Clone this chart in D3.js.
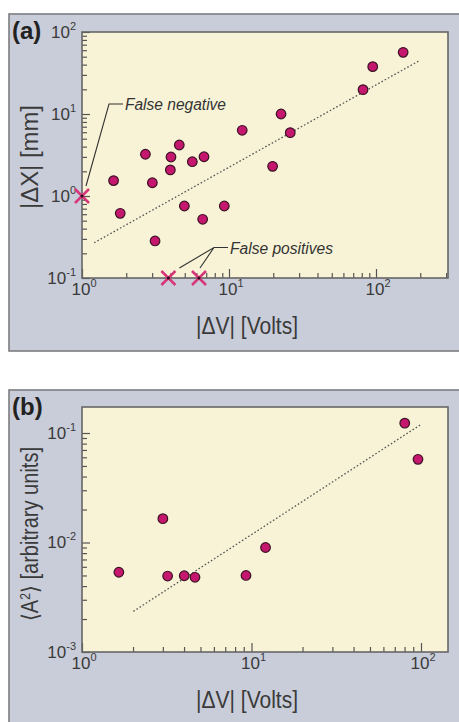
<!DOCTYPE html>
<html><head><meta charset="utf-8">
<script src="https://cdn.jsdelivr.net/npm/d3@7"></script>
<style>
html,body{margin:0;padding:0;background:#fff;}
svg{display:block;}
</style></head>
<body><svg id="c" width="459" height="722"></svg>
<script>
// ---------- data: panel (a) ----------
const aVolts = [153, 95, 81.6, 22.6, 26.1, 12.3, 4.59, 2.70, 4.03, 6.76, 5.63, 3.99, 19.8, 1.64, 3.01, 1.82, 4.97, 9.29, 6.62, 3.14];
const aDisp  = [56.5, 37.8, 19.8, 10, 5.92, 6.33, 4.19, 3.23, 2.99, 3.01, 2.62, 2.08, 2.30, 1.54, 1.45, 0.615, 0.755, 0.755, 0.52, 0.283];
const falseVolts = [1, 3.87, 6.25];
const falseDisp  = [1, 0.1, 0.1];
const aFitVolts = [1.21, 197];
const aFitDisp  = [0.269, 44.7];
const aXTicks = [1, 10, 100];
const aYTicks = [0.1, 1, 10, 100];
const aXExp = ["0", "1", "2"];
const aYExp = ["-1", "0", "1", "2"];
// ---------- data: panel (b) ----------
const bVolts = [80.2, 96, 3.0, 12.1, 1.65, 3.2, 4.01, 4.64, 9.28];
const bAmp   = [0.123, 0.0575, 0.0165, 0.009, 0.00535, 0.00494, 0.00497, 0.00481, 0.005];
const bFitVolts = [2.01, 101];
const bFitAmp   = [0.00235, 0.121];
const bXTicks = [1, 10, 100];
const bYTicks = [0.001, 0.01, 0.1];
const bXExp = ["0", "1", "2"];
const bYExp = ["-3", "-2", "-1"];

const FONT = "'Liberation Sans Narrow','Liberation Sans',Arial,sans-serif";
const svg = d3.select("#c");

function minors(domain) {
  const out = [];
  const lo = Math.floor(Math.log10(domain[0])), hi = Math.ceil(Math.log10(domain[1]));
  for (let d = lo; d <= hi; d++) for (let k = 2; k <= 9; k++) {
    const v = k * Math.pow(10, d);
    if (v > domain[0] && v < domain[1] * 1.0001) out.push(v);
  }
  return out;
}

function panel(o) {
  const g = svg.append("g");
  g.append("rect").attr("x", 9).attr("y", o.boxTop).attr("width", 470).attr("height", o.boxH)
    .attr("fill", "#c9cdd9").attr("stroke", "#7d7d80").attr("stroke-width", 1.6);
  const x = d3.scaleLog().domain(o.xDomain).range([82, 448]);
  const y = d3.scaleLog().domain(o.yDomain).range([o.bottom, o.top]);
  g.append("rect").attr("x", 82).attr("y", o.top).attr("width", 366).attr("height", o.bottom - o.top)
    .attr("fill", "#f8f3d6");

  // minor ticks
  const xm = g.append("g").attr("transform", `translate(0,${o.bottom})`)
    .call(d3.axisBottom(x).tickValues(minors(o.xDomain)).tickSize(-5).tickFormat(""));
  const ym = g.append("g").attr("transform", `translate(82,0)`)
    .call(d3.axisLeft(y).tickValues(minors(o.yDomain)).tickSize(-5).tickFormat(""));
  // major ticks
  const xa = g.append("g").attr("transform", `translate(0,${o.bottom})`)
    .call(d3.axisBottom(x).tickValues(o.xTicks).tickSize(-9).tickPadding(16).tickFormat(""));
  const ya = g.append("g").attr("transform", `translate(82,0)`)
    .call(d3.axisLeft(y).tickValues(o.yTicks).tickSize(-8).tickPadding(7).tickFormat(""));
  [xm, ym, xa, ya].forEach(a => {
    a.select(".domain").remove();
    a.selectAll(".tick line").attr("stroke", "#555").attr("stroke-width", 1.2);
  });
  xa.selectAll(".tick text").each(function(d, i) {
    const t = d3.select(this).attr("text-anchor", "start").attr("x", -11).attr("y", 17)
      .attr("dy", 0).attr("fill", "#3a3a3a").style("font-family", FONT).style("font-size", "17px");
    t.text("10");
    t.append("tspan").attr("dy", -8).style("font-size", "11px").text(o.xExp[i]);
  });
  ya.selectAll(".tick text").each(function(d, i) {
    const t = d3.select(this).attr("text-anchor", "end").attr("x", -6).attr("dy", 0).attr("y", 5)
      .attr("fill", "#3a3a3a").style("font-family", FONT).style("font-size", "17px");
    t.text("10");
    t.append("tspan").attr("dy", -8).style("font-size", "11px").text(o.yExp[i]);
  });

  // plot frame
  g.append("rect").attr("x", 82).attr("y", o.top).attr("width", 366).attr("height", o.bottom - o.top)
    .attr("fill", "none").attr("stroke", "#666").attr("stroke-width", 1.6);

  // fit line
  const line = d3.line().x(d => x(d[0])).y(d => y(d[1]));
  g.append("path").datum(d3.zip(o.fitX, o.fitY)).attr("d", line)
    .attr("fill", "none").attr("stroke", "#555").attr("stroke-width", 1.3).attr("stroke-dasharray", "1.6,2.1");

  // points
  g.append("g").selectAll("circle").data(d3.zip(o.px, o.py)).join("circle")
    .attr("cx", d => x(d[0])).attr("cy", d => y(d[1])).attr("r", 4.8)
    .attr("fill", "#c5176d").attr("stroke", "#3b1224").attr("stroke-width", 1.2);

  // panel letter
  g.append("text").attr("x", 12).attr("y", o.boxTop + 25).text(o.letter)
    .attr("fill", "#222").style("font-family", "'Liberation Sans',Arial,sans-serif")
    .style("font-weight", "bold").style("font-size", "24px");

  // axis titles
  g.append("text").attr("x", 247).attr("y", o.bottom + 56).attr("text-anchor", "middle")
    .attr("textLength", 102).attr("lengthAdjust", "spacingAndGlyphs")
    .attr("fill", "#3a3a3a").style("font-family", FONT).style("font-size", "23px").text("|ΔV| [Volts]");
  const yt = g.append("text").attr("transform", `translate(38,${o.yLabelC}) rotate(-90)`)
    .attr("text-anchor", "middle").attr("textLength", o.yLabelLen).attr("lengthAdjust", "spacingAndGlyphs")
    .attr("fill", "#3a3a3a").style("font-family", FONT).style("font-size", "23px");
  o.yLabel(yt);
  return {g, x, y};
}

// ---------- panel (a) ----------
const A = panel({
  boxTop: 14, boxH: 337, top: 32, bottom: 278,
  xDomain: [1, Math.pow(10, 366 / 147)], yDomain: [0.1, 100],
  xTicks: aXTicks, yTicks: aYTicks, xExp: aXExp, yExp: aYExp,
  fitX: aFitVolts, fitY: aFitDisp, px: aVolts, py: aDisp,
  letter: "(a)", yLabelC: 157, yLabelLen: 104,
  yLabel: t => t.text("|ΔX| [mm]")
});
// false detections (crosses)
const cross = A.g.append("g").selectAll("g").data(d3.zip(falseVolts, falseDisp)).join("g")
  .attr("transform", d => `translate(${A.x(d[0])},${A.y(d[1])})`);
cross.append("path").attr("d", "M-7,-7L7,7M-7,7L7,-7")
  .attr("stroke", "#d8367c").attr("stroke-width", 2.6).attr("fill", "none");
cross.append("circle").attr("r", 1.6).attr("fill", "#2a1018");
// annotations
A.g.append("path").attr("d", `M123,104H109L${A.x(falseVolts[0]) + 4},${A.y(falseDisp[0]) - 10}`)
  .attr("fill", "none").attr("stroke", "#333").attr("stroke-width", 1.1);
A.g.append("text").attr("x", 125).attr("y", 110).attr("textLength", 101).attr("lengthAdjust", "spacingAndGlyphs")
  .attr("fill", "#333").style("font-family", "'Liberation Sans',Arial,sans-serif").style("font-style", "italic")
  .style("font-size", "16px").text("False negative");
A.g.append("path").attr("d", `M228,247.5H214L${A.x(falseVolts[1]) + 11},${A.y(falseDisp[1]) - 10}M214,247.5L${A.x(falseVolts[2]) + 1},${A.y(falseDisp[2]) - 10}`)
  .attr("fill", "none").attr("stroke", "#333").attr("stroke-width", 1.1);
A.g.append("text").attr("x", 230).attr("y", 254).attr("textLength", 103).attr("lengthAdjust", "spacingAndGlyphs")
  .attr("fill", "#333").style("font-family", "'Liberation Sans',Arial,sans-serif").style("font-style", "italic")
  .style("font-size", "16px").text("False positives");

// ---------- panel (b) ----------
panel({
  boxTop: 390, boxH: 345, top: 407, bottom: 652,
  xDomain: [1, Math.pow(10, 366 / 169.5)], yDomain: [0.001, Math.pow(10, -3 + 245 / 109.5)],
  xTicks: bXTicks, yTicks: bYTicks, xExp: bXExp, yExp: bYExp,
  fitX: bFitVolts, fitY: bFitAmp, px: bVolts, py: bAmp,
  letter: "(b)", yLabelC: 534, yLabelLen: 174,
  yLabel: t => { t.text("⟨A"); t.append("tspan").attr("dy", -8).style("font-size", "14px").text("2");
                 t.append("tspan").attr("dy", 8).text("⟩ [arbitrary units]"); }
});
</script></body></html>
